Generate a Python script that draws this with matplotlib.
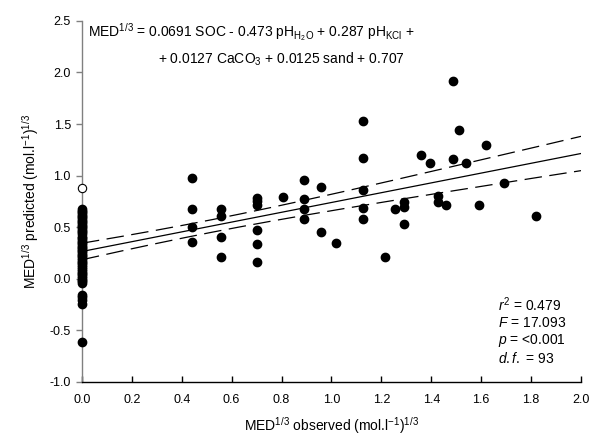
import numpy as np
import matplotlib
matplotlib.use("Agg")
import matplotlib.pyplot as plt

plt.rcParams['font.family'] = ['Liberation Sans', 'DejaVu Sans']
plt.rcParams['mathtext.fontset'] = 'custom'
plt.rcParams['mathtext.rm'] = 'Liberation Sans'
plt.rcParams['mathtext.it'] = 'Liberation Sans:italic'
plt.rcParams['mathtext.bf'] = 'Liberation Sans:bold'

# ---- data ----
obs_zero = [0.0] * 49
pred_zero = [0.68, 0.66, 0.65, 0.63, 0.61, 0.60, 0.58, 0.56, 0.55, 0.53,
             0.51, 0.50, 0.48, 0.46, 0.45, 0.43, 0.41, 0.40, 0.38, 0.36,
             0.35, 0.33, 0.31, 0.30, 0.28, 0.27, 0.25, 0.23, 0.22, 0.20,
             0.18, 0.16, 0.15, 0.13, 0.11, 0.10, 0.08, 0.06, 0.05, 0.03,
             0.01, -0.01, -0.02, -0.04, -0.16, -0.18, -0.21, -0.24, -0.61]

obs_pos = [0.44, 0.44, 0.44, 0.44,
           0.557, 0.557, 0.557, 0.557,
           0.70, 0.70, 0.70, 0.70, 0.70, 0.70,
           0.807,
           0.89, 0.89, 0.89, 0.89,
           0.958, 0.958,
           1.02,
           1.125, 1.125, 1.125, 1.125, 1.125,
           1.213, 1.253,
           1.29, 1.29, 1.29,
           1.36, 1.395,
           1.427, 1.427,
           1.457,
           1.485, 1.485,
           1.512, 1.54, 1.59, 1.618, 1.69, 1.818]
pred_pos = [0.98, 0.68, 0.50, 0.36,
            0.68, 0.61, 0.41, 0.21,
            0.78, 0.75, 0.72, 0.47, 0.34, 0.16,
            0.79,
            0.96, 0.77, 0.68, 0.58,
            0.89, 0.45,
            0.35,
            1.53, 1.17, 0.86, 0.69, 0.58,
            0.21, 0.68,
            0.745, 0.70, 0.53,
            1.20, 1.12,
            0.80, 0.745,
            0.715,
            1.92, 1.165,
            1.447, 1.12, 0.715, 1.30, 0.93, 0.605]

outlier_obs = [0.0]
outlier_pred = [0.88]

x_ticks = [0.0, 0.2, 0.4, 0.6, 0.8, 1.0, 1.2, 1.4, 1.6, 1.8, 2.0]
y_ticks = [-1.0, -0.5, 0.0, 0.5, 1.0, 1.5, 2.0, 2.5]

# ---- regression with 95% confidence band ----
x = np.array(obs_zero + obs_pos)
y = np.array(pred_zero + pred_pos)
n = len(x)
b, a = np.polyfit(x, y, 1)
resid = y - (a + b * x)
s = np.sqrt(np.sum(resid ** 2) / (n - 2))
xbar = x.mean()
sxx = np.sum((x - xbar) ** 2)
t_crit = 1.986
xl = np.linspace(0, 2.0, 200)
yl = a + b * xl
half = t_crit * s * np.sqrt(1.0 / n + (xl - xbar) ** 2 / sxx)

# ---- figure ----
fig = plt.figure(figsize=(5.98, 4.45), dpi=100)
ax = fig.add_axes([0.137, 0.1416, 0.8346, 0.8114])

ax.plot(xl, yl, color='black', lw=0.9, zorder=2)
ax.plot(xl, yl + half, color='black', lw=0.9, dashes=(14, 6), zorder=2)
ax.plot(xl, yl - half, color='black', lw=0.9, dashes=(14, 6), zorder=2)

ax.plot(obs_zero, pred_zero, 'o', color='black', ms=6, mec='black', zorder=3, clip_on=False)
ax.plot(obs_pos, pred_pos, 'o', color='black', ms=6, mec='black', zorder=3)
ax.plot(outlier_obs, outlier_pred, 'o', mfc='white', mec='black', ms=6, mew=0.8, zorder=3, clip_on=False)

ax.set_xlim(0, 2.0)
ax.set_ylim(-1.0, 2.5)
ax.set_xticks(x_ticks)
ax.set_yticks(y_ticks)
ax.set_xticklabels([f"{v:.1f}" for v in x_ticks])
ax.set_yticklabels([f"{v:.1f}" for v in y_ticks])

for side in ['top', 'right']:
    ax.spines[side].set_visible(False)
ax.spines['left'].set_color('#808080')
ax.spines['left'].set_linewidth(1.0)
ax.spines['bottom'].set_color('black')
ax.spines['bottom'].set_linewidth(1.0)

ax.tick_params(axis='x', direction='in', length=4, width=1, color='black',
               labelsize=9, pad=9)
ax.tick_params(axis='y', direction='out', length=4, width=1, color='#808080',
               labelsize=9, pad=4)

ax.set_xlabel(r"MED$^{1/3}$ observed (mol.l$^{-1}$)$^{1/3}$", fontsize=10, labelpad=6)
ax.set_ylabel(r"MED$^{1/3}$ predicted (mol.l$^{-1}$)$^{1/3}$", fontsize=10, labelpad=6)

ax.text(0.025, 2.39,
        r"MED$^{1/3}$ = 0.0691 SOC - 0.473 pH$_{\mathregular{H_2O}}$ + 0.287 pH$_{\mathregular{KCl}}$ +",
        fontsize=10, va='center', ha='left')
ax.text(0.305, 2.13,
        r"+ 0.0127 CaCO$_3$ + 0.0125 sand + 0.707",
        fontsize=10, va='center', ha='left')

stats = [r"$r^2$ = 0.479", r"$F$ = 17.093", r"$p$ = <0.001", r"$d.f.$ = 93"]
for i, t in enumerate(stats):
    ax.text(1.667, -0.25 - i * 0.175, t, fontsize=10, va='center', ha='left')

fig.savefig("out.png", dpi=100)
